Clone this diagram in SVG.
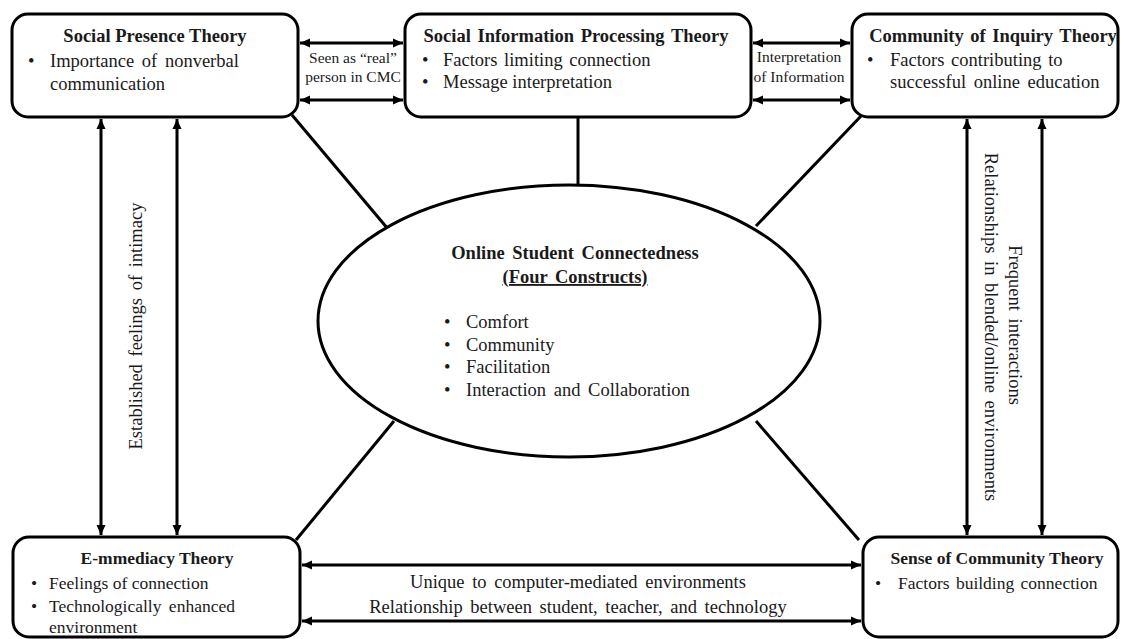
<svg xmlns="http://www.w3.org/2000/svg" width="1128" height="639" viewBox="0 0 1128 639">
<style>
.box{fill:#fff;stroke:#000;stroke-width:3}
.ln{stroke:#000;stroke-width:3;fill:none}
.ar{stroke:#000;stroke-width:3;fill:none;marker-start:url(#ah);marker-end:url(#ah)}
text{font-family:"Liberation Serif","Times New Roman",serif;fill:#1a1a1a}
.t{font-size:18.5px;font-weight:bold;text-anchor:middle}
.b{font-size:18.5px}
.t2{font-size:17.5px;font-weight:bold;text-anchor:middle}
.b2{font-size:17.5px}
.s{font-size:15.5px;text-anchor:middle}
.m{font-size:18.5px;text-anchor:middle;word-spacing:3px}
.v{font-size:18.5px;text-anchor:middle;word-spacing:3px}
</style>
<defs>
<marker id="ah" markerUnits="userSpaceOnUse" markerWidth="11" markerHeight="10" refX="10" refY="5" orient="auto-start-reverse">
<path d="M0,0.5 L10,5 L0,9.5 z" fill="#000"/>
</marker>
</defs>
<g id="connectors">
<line class="ln" x1="292" y1="115" x2="388" y2="229"/>
<line class="ln" x1="578" y1="117" x2="578" y2="190"/>
<line class="ln" x1="862" y1="115" x2="756" y2="226"/>
<line class="ln" x1="394" y1="421" x2="296" y2="540"/>
<line class="ln" x1="756" y1="421" x2="859" y2="540"/>
<line class="ar" x1="300" y1="43" x2="403" y2="43"/>
<line class="ar" x1="300" y1="100" x2="403" y2="100"/>
<line class="ar" x1="753" y1="43" x2="850" y2="43"/>
<line class="ar" x1="753" y1="100" x2="850" y2="100"/>
<line class="ar" x1="101" y1="119" x2="101" y2="535"/>
<line class="ar" x1="177" y1="119" x2="177" y2="535"/>
<line class="ar" x1="967" y1="119" x2="967" y2="535"/>
<line class="ar" x1="1042" y1="119" x2="1042" y2="535"/>
<line class="ar" x1="302" y1="565" x2="861" y2="565"/>
<line class="ar" x1="302" y1="621" x2="861" y2="621"/>
<text class="s" x="353" y="63">Seen as “real”</text>
<text class="s" x="353" y="82">person in CMC</text>
<text class="s" x="799" y="62">Interpretation</text>
<text class="s" x="799" y="82">of Information</text>
<text class="v" transform="translate(142,326) rotate(-90)">Established feelings of intimacy</text>
<text class="v" transform="translate(1009,325) rotate(90)">Frequent interactions</text>
<text class="v" transform="translate(985,327) rotate(90)">Relationships in blended/online environments</text>
<text class="m" x="578" y="588">Unique to computer-mediated environments</text>
<text class="m" x="578" y="613">Relationship between student, teacher, and technology</text>
</g>
<g id="social-presence">
<rect class="box" x="12" y="14" width="286" height="103" rx="16"/>
<text class="t" x="155" y="42">Social Presence Theory</text>
<text class="b" x="28" y="67">•</text>
<text class="b" x="50" y="67" word-spacing="3">Importance of nonverbal</text>
<text class="b" x="50" y="90">communication</text>
</g>
<g id="social-information">
<rect class="box" x="405" y="14" width="346" height="103" rx="16"/>
<text class="t" x="576" y="42" word-spacing="2">Social Information Processing Theory</text>
<text class="b" x="422" y="66">•</text>
<text class="b" x="443" y="66" word-spacing="2">Factors limiting connection</text>
<text class="b" x="422" y="88">•</text>
<text class="b" x="443" y="88">Message interpretation</text>
</g>
<g id="community-inquiry">
<rect class="box" x="852" y="14" width="266" height="103" rx="16"/>
<text class="t" x="993" y="42" word-spacing="2">Community of Inquiry Theory</text>
<text class="b" x="867" y="66">•</text>
<text class="b" x="890" y="66" word-spacing="2">Factors contributing to</text>
<text class="b" x="890" y="88" word-spacing="3">successful online education</text>
</g>
<g id="connectedness">
<ellipse class="box" cx="569" cy="321" rx="251" ry="136"/>
<text class="t" x="575" y="259" word-spacing="3">Online Student Connectedness</text>
<text class="t" x="575" y="283" word-spacing="3" text-decoration="underline">(Four Constructs)</text>
<text class="b" x="444" y="328">•</text>
<text class="b" x="466" y="328">Comfort</text>
<text class="b" x="444" y="351">•</text>
<text class="b" x="466" y="351">Community</text>
<text class="b" x="444" y="373">•</text>
<text class="b" x="466" y="373">Facilitation</text>
<text class="b" x="444" y="396">•</text>
<text class="b" x="466" y="396" word-spacing="3">Interaction and Collaboration</text>
</g>
<g id="emmediacy">
<rect class="box" x="13" y="537" width="287" height="100" rx="16"/>
<text class="t2" x="157" y="564">E-mmediacy Theory</text>
<text class="b2" x="31" y="589">•</text>
<text class="b2" x="49" y="589">Feelings of connection</text>
<text class="b2" x="31" y="612">•</text>
<text class="b2" x="49" y="612" word-spacing="3">Technologically enhanced</text>
<text class="b2" x="49" y="633">environment</text>
</g>
<g id="sense-community">
<rect class="box" x="863" y="537" width="255" height="100" rx="16"/>
<text class="t2" x="997" y="564">Sense of Community Theory</text>
<text class="b2" x="875" y="589">•</text>
<text class="b2" x="898" y="589" word-spacing="2">Factors building connection</text>
</g>
</svg>
